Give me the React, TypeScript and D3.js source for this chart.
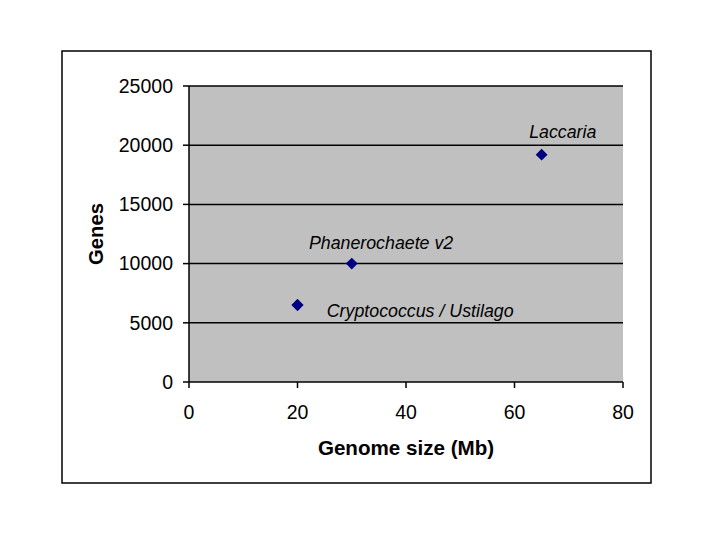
import React from "react";
import * as d3 from "d3";

const names = ["Cryptococcus", "Ustilago", "Phanerochaete v2", "Laccaria"];
const genomeSize = [20, 20, 30, 65];
const genes = [6500, 6500, 10000, 19200];
const xTicks = [0, 20, 40, 60, 80];
const yTicks = [0, 5000, 10000, 15000, 20000, 25000];
const labels = [
  { text: "Cryptococcus / Ustilago", x: 25.4, y: 5500 },
  { text: "Phanerochaete v2", x: 22.1, y: 11230 },
  { text: "Laccaria", x: 62.7, y: 20600 },
];

export default function App() {
  const x = d3.scaleLinear().domain([0, 80]).range([189, 623]);
  const y = d3.scaleLinear().domain([0, 25000]).range([382, 86]);
  const font = "Arial, 'Liberation Sans', sans-serif";
  const diamond = d3.symbol().type(d3.symbolDiamond2).size(90)() as string;
  return (
    <svg width={720} height={540} style={{ position: "absolute", left: 0, top: 0 }} fontFamily={font}>
      <rect x={0} y={0} width={720} height={540} fill="#fff" />
      <rect x={62} y={51} width={589} height={432} fill="#fff" stroke="#000" strokeWidth={1.5} />
      <rect x={x(0)} y={y(25000)} width={x(80) - x(0)} height={y(0) - y(25000)} fill="#c0c0c0" />
      {yTicks.filter((t) => t > 0).map((t) => (
        <line key={t} x1={x(0)} x2={x(80)} y1={y(t)} y2={y(t)} stroke="#000" strokeWidth={1.5} />
      ))}
      <line x1={x(0)} x2={x(0)} y1={y(0)} y2={y(25000)} stroke="#000" strokeWidth={1.5} />
      <line x1={x(0)} x2={x(80)} y1={y(0)} y2={y(0)} stroke="#000" strokeWidth={1.5} />
      {yTicks.map((t) => (
        <g key={t}>
          <line x1={x(0) - 6} x2={x(0)} y1={y(t)} y2={y(t)} stroke="#000" strokeWidth={1.5} />
          <text x={173} y={y(t)} dy="0.35em" textAnchor="end" fontSize={19.5}>{t}</text>
        </g>
      ))}
      {xTicks.map((t) => (
        <g key={t}>
          <line x1={x(t)} x2={x(t)} y1={y(0)} y2={y(0) + 6} stroke="#000" strokeWidth={1.5} />
          <text x={x(t)} y={419} textAnchor="middle" fontSize={19.5}>{t}</text>
        </g>
      ))}
      <text x={406} y={455} textAnchor="middle" fontSize={20.6} fontWeight="bold">Genome size (Mb)</text>
      <text transform="translate(103,234) rotate(-90)" textAnchor="middle" fontSize={20.3} fontWeight="bold">Genes</text>
      {names.map((n, i) => (
        <path key={n} d={diamond} transform={`translate(${x(genomeSize[i])},${y(genes[i])})`} fill="#000080" />
      ))}
      {labels.map((l) => (
        <text key={l.text} x={x(l.x)} y={y(l.y)} fontSize={17.8} fontStyle="italic">{l.text}</text>
      ))}
    </svg>
  );
}
